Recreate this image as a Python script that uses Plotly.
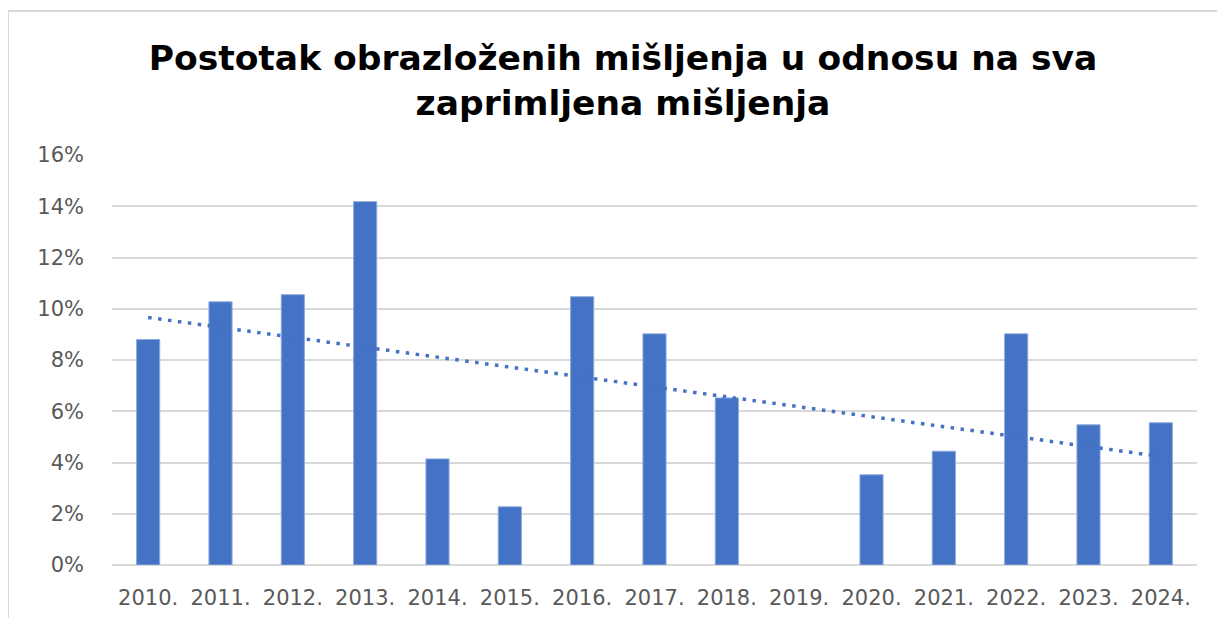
import numpy as np
import plotly.graph_objects as go

years = ["2010.", "2011.", "2012.", "2013.", "2014.", "2015.", "2016.", "2017.",
         "2018.", "2019.", "2020.", "2021.", "2022.", "2023.", "2024."]
values = [8.8, 10.27, 10.55, 14.18, 4.14, 2.27, 10.47, 9.02, 6.52, 0.0,
          3.52, 4.44, 9.02, 5.47, 5.55]
y_ticks = [0, 2, 4, 6, 8, 10, 12, 14, 16]
y_tick_text = ["0%", "2%", "4%", "6%", "8%", "10%", "12%", "14%", "16%"]
title_text = "Postotak obrazloženih mišljenja u odnosu na sva<br>zaprimljena mišljenja"

BLUE = "#4472C4"
GRID = "#D9D9D9"

# linear trendline (Excel-style) computed from the data
xi = np.arange(1, len(values) + 1)
slope, intercept = np.polyfit(xi, values, 1)
trend = slope * xi + intercept

fig = go.Figure()
fig.add_trace(go.Bar(x=years, y=[v if v > 0 else None for v in values],
                     marker=dict(color=BLUE, line=dict(color="#8FAADC", width=1)),
                     showlegend=False, hoverinfo="x+y"))
fig.add_trace(go.Scatter(x=years, y=trend, mode="lines",
                         line=dict(color=BLUE, width=3.5, dash="3.5px,6.5px"),
                         showlegend=False))

OFF = 8  # page body margin
W, H = 1225, 618
L, R, T, B = 104, 36, 147, 61
pw, ph = W - L - R, H - T - B

def px_x(sx):
    return (sx - OFF - L) / pw

def px_y(sy):
    return (H - B - (sy - OFF)) / ph

TICKFONT = dict(family="DejaVu Sans", size=21, color="#595959")

fig.update_layout(
    width=W, height=H,
    margin=dict(l=L, r=R, t=T, b=B, autoexpand=False),
    paper_bgcolor="white", plot_bgcolor="white",
    bargap=0.68,
    title=dict(text=title_text, x=(623 - OFF) / W, xanchor="center",
               y=1 - 62 / H, yanchor="middle",
               font=dict(family="DejaVu Sans", size=34.5, color="#000000", weight="bold")),
    xaxis=dict(showgrid=False, showline=False, ticks="", tickangle=0,
               tickfont=TICKFONT, automargin=False,
               ticklabelstandoff=18),
    yaxis=dict(range=[0, 16], tickvals=y_ticks, ticktext=y_tick_text,
               showgrid=True, gridcolor=GRID, gridwidth=2,
               zeroline=True, zerolinecolor=GRID, zerolinewidth=2,
               showline=False, ticks="", automargin=False,
               tickfont=TICKFONT,
               ticklabelstandoff=27),
    shapes=[dict(type="rect", xref="paper", yref="paper",
                 x0=px_x(8), x1=px_x(1260), y0=px_y(660), y1=px_y(11),
                 line=dict(color=GRID, width=2), fillcolor="rgba(0,0,0,0)",
                 layer="below")],
)

fig.write_html("out.html")
